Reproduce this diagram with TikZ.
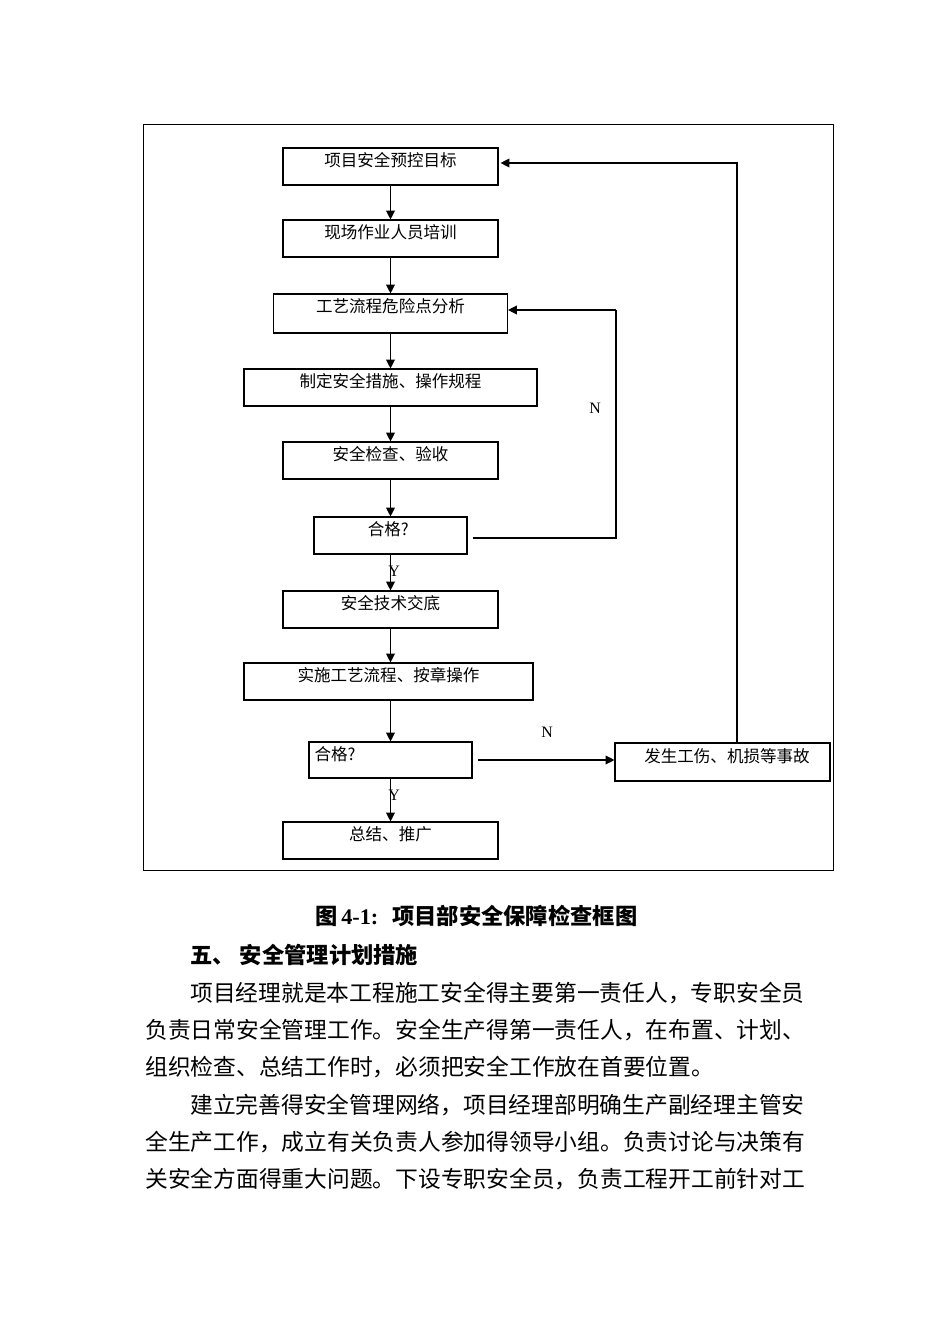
\documentclass[tikz,border=0pt]{standalone}
\usepackage{fontspec}
\usepackage{tikz}
\setmainfont{Liberation Serif}
\newfontfamily\cjk{Noto Sans CJK SC}
\newcommand{\pxu}{0.0221cm}
\usetikzlibrary{arrows.meta,calc}

\begin{document}
\begin{tikzpicture}[x=0.0221cm, y=-0.0221cm,
    box/.style={draw, line width=0.7pt, inner sep=0pt, minimum width=215*\pxu, minimum height=37*\pxu},
    boxtxt/.style={anchor=north, inner sep=0pt, yshift=-1.1mm, font=\cjk\fontsize{10.4pt}{12pt}\selectfont},
    flow/.style={line width=0.7pt, -{Triangle[length=5.5pt,width=5.5pt]}},
    yn/.style={inner sep=0pt, font=\fontsize{10pt}{12pt}\selectfont},
    para/.style={anchor=west, inner sep=0pt, font=\cjk\fontsize{14.3pt}{17pt}\selectfont},
    head/.style={anchor=west, inner sep=0pt, font=\cjk\bfseries\fontsize{14pt}{17pt}\selectfont}]
    \useasboundingbox (0,0) rectangle (950,1344);

    % Frame
    \draw[line width=0.6pt] (143,124) rectangle (833,870);

    % Main column
    \node[box, label={[boxtxt]north:项目安全预控目标}] (goal) at (390.5,166.5) {};
    \node[box, label={[boxtxt]north:现场作业人员培训}] (train) at (390.5,238.5) {};
    \node[box, minimum width=234*\pxu, minimum height=39*\pxu, label={[boxtxt]north:工艺流程危险点分析}] (hazard) at (390.5,313.5) {};
    \node[box, minimum width=293*\pxu, label={[boxtxt]north:制定安全措施、操作规程}] (measure) at (390.5,387.5) {};
    \node[box, label={[boxtxt]north:安全检查、验收}] (inspect) at (390.5,460.5) {};
    \node[box, minimum width=153*\pxu, label={[boxtxt, xshift=-0.5mm]north:合格?}] (pass1) at (390.5,535.5) {};
    \node[box, label={[boxtxt]north:安全技术交底}] (brief) at (390.5,609.5) {};
    \node[box, minimum width=289*\pxu, label={[boxtxt]north:实施工艺流程、按章操作}] (work) at (388.5,681.5) {};
    \node[box, minimum width=163*\pxu, minimum height=36*\pxu, label={[boxtxt, anchor=north west, xshift=1.3mm]north west:合格?}] (pass2) at (390.5,760) {};
    \node[box, label={[boxtxt]north:总结、推广}] (sum) at (390.5,840.5) {};

    % Accident box
    \node[box, minimum height=38*\pxu, label={[boxtxt, xshift=1mm, yshift=-0.2mm]north:发生工伤、机损等事故}] (accident) at (722.5,762) {};

    % Arrows down
    \draw[flow] (goal) -- (train);
    \draw[flow] (train) -- (hazard);
    \draw[flow] (hazard) -- (measure);
    \draw[flow] (measure) -- (inspect);
    \draw[flow] (inspect) -- (pass1);
    \draw[flow] (pass1) -- (brief);
    \draw[flow] (brief) -- (brief |- work.north);
    \draw[flow] (work.south -| pass2) -- (pass2);
    \draw[flow] (pass2) -- (sum);

    % Loops back
    \coordinate (loopA) at (616,310);
    \coordinate (loopB) at (737,163);
    \coordinate (loopC) at (616,538);
    \draw[line width=0.7pt] ([xshift=1.1mm]pass1.east |- loopC) -- (loopC) -- (loopA);
    \draw[flow] (loopA) -- (hazard.east |- loopA);
    \draw[flow] ([xshift=1.3mm]pass2.east) -- (pass2.east -| accident.west);
    \draw[flow] (accident.north -| loopB) -- (loopB) -- ($(goal.east |- loopB)+(2,0)$);

    % Y / N
    \node[yn] (yes1) at (394,571) {Y};
    \node[yn] (yes2) at (394,795) {Y};
    \node[yn] (no1) at (595,408) {N};
    \node[yn] (no2) at (547,732) {N};

    % Caption and text
    \node[head] (caption) at (315,916) {{\cjk 图}\,{\rmfamily 4-1:}\ \ \,项目部安全保障检查框图};
    \node[head] (title) at (190,955) {五、 安全管理计划措施};
    \node[para] (line1) at (190,993) {项目经理就是本工程施工安全得主要第一责任人，专职安全员};
    \node[para] (line2) at (145,1030) {负责日常安全管理工作。安全生产得第一责任人，在布置、计划、};
    \node[para] (line3) at (145,1067) {组织检查、总结工作时，必须把安全工作放在首要位置。};
    \node[para] (line4) at (190,1105) {建立完善得安全管理网络，项目经理部明确生产副经理主管安};
    \node[para] (line5) at (145,1142) {全生产工作，成立有关负责人参加得领导小组。负责讨论与决策有};
    \node[para] (line6) at (145,1179) {关安全方面得重大问题。下设专职安全员，负责工程开工前针对工};
\end{tikzpicture}
\end{document}
